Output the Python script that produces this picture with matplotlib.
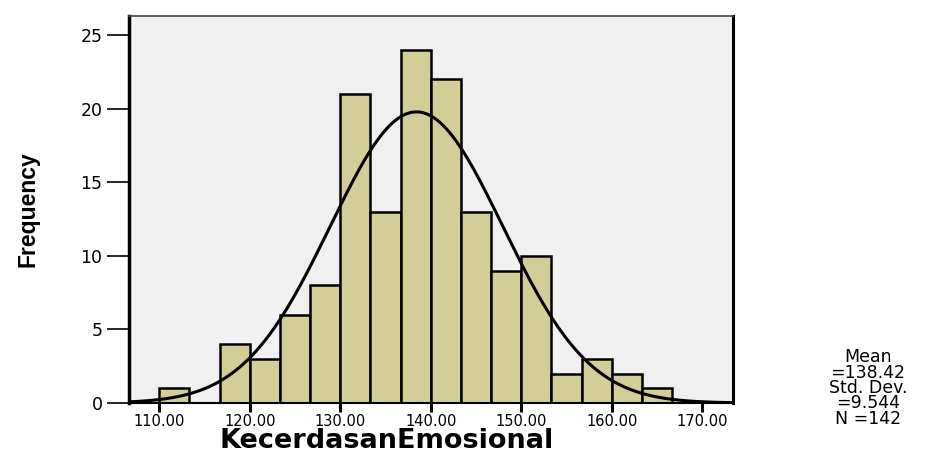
import matplotlib
matplotlib.use("Agg")
import matplotlib.pyplot as plt
import numpy as np

# histogram data (bins of 10/3 starting at 110)
bin_start = 110.0
bin_width = 10.0 / 3.0
counts = [1, 0, 4, 3, 6, 8, 21, 13, 24, 22, 13, 9, 10, 2, 3, 2, 1]

# summary statistics shown at the right
mean_val = 138.42
std_val = 9.544
n_val = 142
stats_lines = ["Mean", "=138.42", "Std. Dev.", "=9.544", "N =142"]

x_ticks = [110, 120, 130, 140, 150, 160, 170]
x_tick_labels = ["110.00", "120.00", "130.00", "140.00", "150.00", "160.00", "170.00"]
y_ticks = [0, 5, 10, 15, 20, 25]

W, H = 932, 454
fig = plt.figure(figsize=(W / 100, H / 100), dpi=100)
ax = fig.add_axes([129 / W, 1 - 403 / H, (733 - 129) / W, (403 - 16) / H])
ax.set_facecolor("#F0F0F0")

edges = bin_start + bin_width * np.arange(len(counts))
ax.bar(edges, counts, width=bin_width, align="edge",
       color="#D3CE97", edgecolor="black", linewidth=1.8, zorder=2)

# fitted normal curve
xlim = (106.65, 173.4)
xs = np.linspace(xlim[0], xlim[1], 400)
ys = n_val * bin_width * np.exp(-0.5 * ((xs - mean_val) / std_val) ** 2) / (std_val * np.sqrt(2 * np.pi))
ax.plot(xs, ys, color="black", linewidth=2.2, zorder=3)

ax.set_xlim(*xlim)
ax.set_ylim(0, 26.3)

ax.set_xticks(x_ticks)
ax.set_xticklabels(x_tick_labels, fontsize=10.5, family="DejaVu Sans")
ax.set_yticks(y_ticks)
ax.set_yticklabels([str(v) for v in y_ticks], fontsize=12.5, family="DejaVu Sans")
ax.tick_params(axis="x", length=6.5, width=2.2, pad=1.5, colors="black")
ax.tick_params(axis="y", length=16, width=1.2, pad=3, colors="black")

ax.spines["left"].set_linewidth(2.5)
ax.spines["bottom"].set_linewidth(1.5)
ax.spines["top"].set_linewidth(1.2)
ax.spines["top"].set_color("#444444")
ax.spines["right"].set_linewidth(2.2)

fig.text(386.5 / W, 1 - 448.5 / H, "KecerdasanEmosional", ha="center", va="baseline",
         fontsize=19.5, fontweight="bold", family="DejaVu Sans")
fig.text(28 / W, 1 - 209 / H, "Frequency", rotation=90, ha="center", va="center",
         fontsize=16.5, fontweight="heavy", family="Liberation Sans")

# stats block, tightly spaced as in the reference
fig.text(868 / W, 1 - 388 / H, "\n".join(stats_lines), ha="center", va="center",
         multialignment="center", linespacing=0.82, fontsize=12.5, family="DejaVu Sans")

fig.savefig("out.png", dpi=100)
